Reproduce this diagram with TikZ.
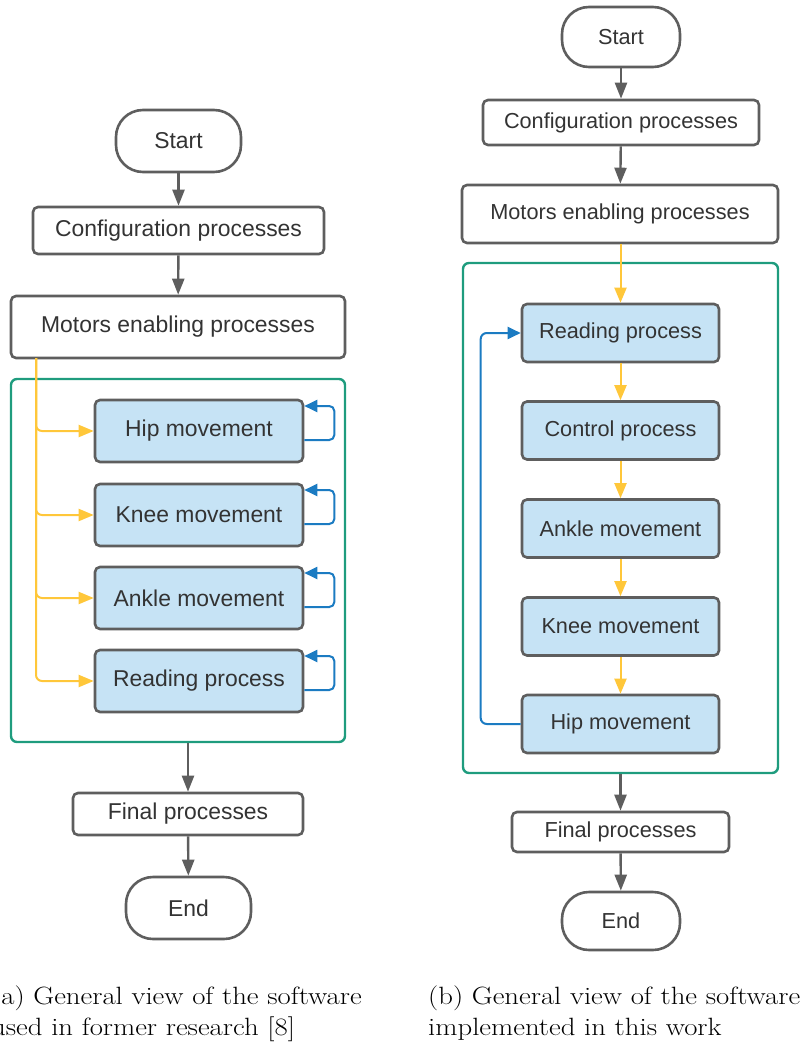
\documentclass[tikz,border=0pt]{standalone}
\usepackage{fontspec}
\newfontfamily\arial{Liberation Sans}
\usetikzlibrary{arrows.meta}
\definecolor{gstroke}{HTML}{5E5E5E}
\definecolor{gtext}{HTML}{333333}
\definecolor{bfill}{HTML}{C6E3F5}
\definecolor{cgreen}{HTML}{1F9C7E}
\definecolor{cyellow}{HTML}{FFC73A}
\definecolor{cblue}{HTML}{1B7BC2}
\tikzset{
  box/.style={draw=gstroke, line width=2.6pt, rounded corners=5pt, fill=white, inner sep=0pt, text=gtext},
  lfont/.style={font=\arial\fontsize{22.9}{26}\selectfont},
  rfont/.style={font=\arial\fontsize{21.7}{25}\selectfont},
  bluebox/.style={box, fill=bfill},
  term/.style={box, rounded corners=27pt},
  cont/.style={draw=cgreen, line width=2.4pt, rounded corners=6pt, inner sep=0pt},
  garrow/.style={draw=gstroke, line width=2.4pt, -{Triangle[length=16pt,width=12pt]}},
  yarrow/.style={draw=cyellow, line width=2pt, -{Triangle[length=15pt,width=12pt]}},
  barrow/.style={draw=cblue, line width=2pt, -{Triangle[length=13pt,width=12pt]}},
  capt/.style={font=\fontsize{25}{31}\selectfont, anchor=base west, inner sep=0pt}
}
\newcommand{\captxt}[1]{\scalebox{1.15}[1]{#1}}
\begin{document}
\begin{tikzpicture}[x=1pt,y=-1pt]
\useasboundingbox (0,0) rectangle (806,1046);
% ---------- left diagram ----------
\node[term, lfont, minimum width=125pt, minimum height=62pt] (s1) at (178.5,141) {Start};
\node[box, lfont, minimum width=291pt, minimum height=47pt] (c1) at (178.5,230.5) {Configuration processes};
\node[box, lfont, minimum width=334pt, minimum height=62pt] (m1) at (178,327) {Motors enabling processes};
\node[cont, minimum width=334pt, minimum height=363pt] (g1) at (178,560.5) {};
\node[bluebox, lfont, minimum width=208pt, minimum height=62pt] (h1) at (199,431) {Hip movement};
\node[bluebox, lfont, minimum width=208pt, minimum height=62pt] (k1) at (199,515) {Knee movement};
\node[bluebox, lfont, minimum width=208pt, minimum height=62pt] (a1) at (199,598) {Ankle movement};
\node[bluebox, lfont, minimum width=208pt, minimum height=62pt] (r1) at (199,681) {Reading process};
\node[box, lfont, minimum width=230pt, minimum height=42pt] (f1) at (188,814) {Final processes};
\node[term, lfont, minimum width=125pt, minimum height=62pt] (e1) at (188.5,908) {End};
\draw[garrow] (s1) -- (c1);
\draw[garrow] (c1) -- (m1);
\coordinate (ytop) at (36,358);
\foreach \n in {h1,k1,a1,r1}{
  \draw[yarrow, rounded corners=6pt] (ytop) |- (\n.west);
  \draw[barrow, rounded corners=5pt] ([yshift=-9pt]\n.east) -- ++(30,0) |- ([yshift=25pt]\n.east);
}
\draw[garrow] (f1.north |- g1.south) -- (f1.north);
\draw[garrow] (f1) -- (e1);
% ---------- right diagram ----------
\node[term, rfont, minimum width=118pt, minimum height=60pt] (s2) at (621,37) {Start};
\node[box, rfont, minimum width=276pt, minimum height=45pt] (c2) at (621,122.5) {Configuration processes};
\node[box, rfont, minimum width=316pt, minimum height=58pt] (m2) at (620,214) {Motors enabling processes};
\node[cont, minimum width=315pt, minimum height=510pt] (g2) at (620.5,518) {};
\node[bluebox, rfont, minimum width=197pt, minimum height=58pt] (r2) at (620.5,333) {Reading process};
\node[bluebox, rfont, minimum width=197pt, minimum height=58pt] (t2) at (620.5,430.5) {Control process};
\node[bluebox, rfont, minimum width=197pt, minimum height=58pt] (a2) at (620.5,528.5) {Ankle movement};
\node[bluebox, rfont, minimum width=197pt, minimum height=58pt] (k2) at (620.5,626.5) {Knee movement};
\node[bluebox, rfont, minimum width=197pt, minimum height=58pt] (h2) at (620.5,724) {Hip movement};
\node[box, rfont, minimum width=217pt, minimum height=40pt] (f2) at (620.5,832) {Final processes};
\node[term, rfont, minimum width=118pt, minimum height=58pt] (e2) at (621,921) {End};
\draw[garrow] (s2) -- (c2);
\draw[garrow] (c2) -- (m2);
\draw[yarrow] (m2.south -| r2.north) -- (r2.north);
\draw[yarrow] (r2) -- (t2);
\draw[yarrow] (t2) -- (a2);
\draw[yarrow] (a2) -- (k2);
\draw[yarrow] (k2) -- (h2);
\draw[barrow, rounded corners=6pt] (h2.west) -- ++(-40,0) |- (r2.west);
\draw[garrow] (f2.north |- g2.south) -- (f2.north);
\draw[garrow] (f2) -- (e2);
% ---------- captions ----------
\node[capt] (ca1) at (-9,1004) {\captxt{(a) General view of the software}};
\node[capt] (ca2) at (-9,1035) {\captxt{used in former research [8]}};
\node[capt] (cb1) at (428,1004) {\captxt{(b) General view of the software}};
\node[capt] (cb2) at (428,1035) {\captxt{implemented in this work}};
\end{tikzpicture}
\end{document}
